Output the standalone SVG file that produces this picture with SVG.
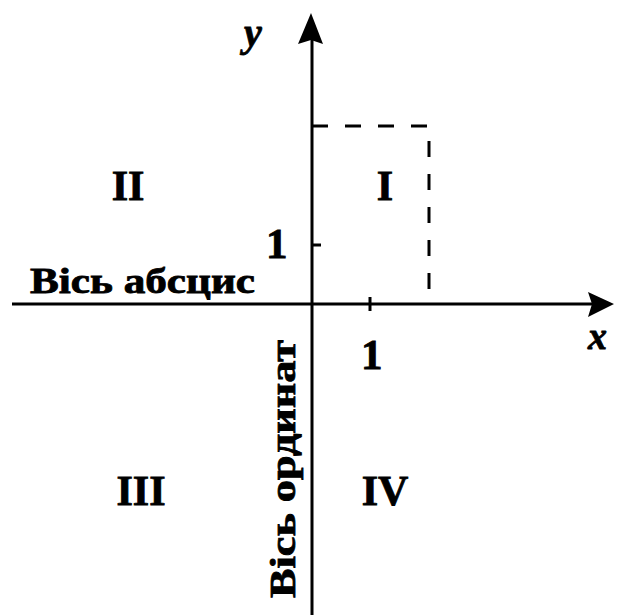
<svg xmlns="http://www.w3.org/2000/svg" width="617" height="615" viewBox="0 0 617 615">
<style>
.ax{stroke:#000;stroke-width:3;fill:none}
.dash{stroke:#000;stroke-width:3;fill:none;stroke-dasharray:16 17}
.t{font-family:"Liberation Serif","Times New Roman",serif;font-weight:bold;fill:#000;stroke:#000;stroke-width:0.8}
.v{font-family:"Liberation Serif","Times New Roman",serif;font-weight:bold;font-style:italic;fill:#000;stroke:#000;stroke-width:0.8}
</style>
<rect width="617" height="615" fill="#fff"/>
<g id="connectors">
<line class="ax" x1="12" y1="304" x2="595" y2="304"/>
<polygon points="614,304 588,292 592,304 588,317" fill="#000"/>
<line class="ax" x1="312" y1="615" x2="312" y2="35"/>
<polygon points="311,13 298,44 311,40 323,44" fill="#000"/>
<line class="ax" x1="312" y1="245" x2="321" y2="245"/>
<line class="ax" x1="370" y1="297" x2="370" y2="311"/>
<polyline class="dash" points="312,126 429,126 429,304"/>
</g>
<g id="axis-y-label"><text class="v" x="244" y="46" font-size="40">y</text></g>
<g id="axis-x-label"><text class="v" x="588" y="349" font-size="38">x</text></g>
<g id="tick-y-1"><text class="t" x="266" y="258" font-size="43">1</text></g>
<g id="tick-x-1"><text class="t" x="361" y="369" font-size="43">1</text></g>
<g id="quadrant-I"><text class="t" x="385" y="200" font-size="42" text-anchor="middle">I</text></g>
<g id="quadrant-II"><text class="t" x="128" y="200" font-size="42" text-anchor="middle">II</text></g>
<g id="quadrant-III"><text class="t" x="141" y="505" font-size="42" text-anchor="middle">III</text></g>
<g id="quadrant-IV"><text class="t" x="385" y="505" font-size="42" text-anchor="middle">IV</text></g>
<g id="abscissa-label"><text class="t" x="30" y="293" font-size="35" textLength="225" lengthAdjust="spacingAndGlyphs">Вісь абсцис</text></g>
<g id="ordinate-label"><text class="t" transform="translate(295,598) rotate(-90)" font-size="35" textLength="258" lengthAdjust="spacingAndGlyphs">Вісь ординат</text></g>
</svg>
